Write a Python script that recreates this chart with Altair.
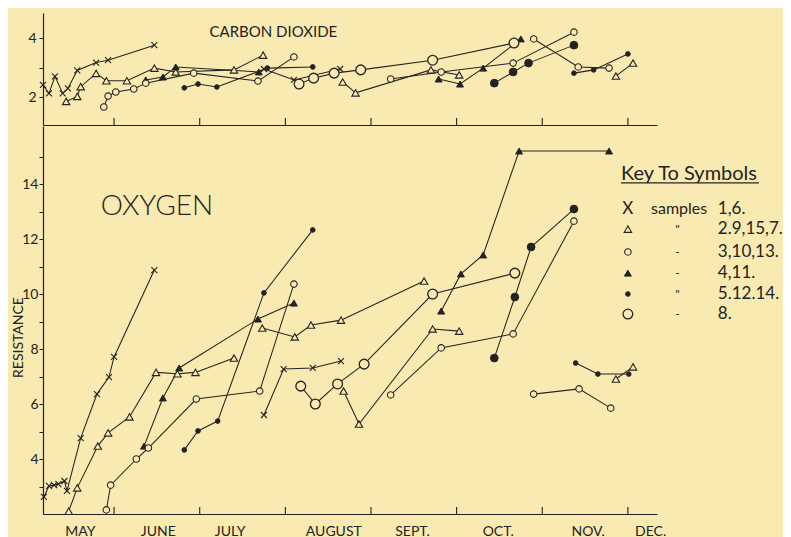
import altair as alt
import pandas as pd

BG = "#F9EAB2"
INK = "#232323"
FONT = "Lato"

# x = month number (6.0 = 1 June, 7.0 = 1 July ... 12.0 = 1 December)
X_DOMAIN = [5.17, 12.34]
CO2_DOMAIN = [1.05, 4.85]
O2_DOMAIN = [2.0, 16.11]
W, H_CO2, H_O2 = 614, 112, 388

MONTH_STARTS = [6, 7, 8, 9, 10, 11, 12]
MONTH_NAMES = ["MAY", "JUNE", "JULY", "AUGUST", "SEPT.", "OCT.", "NOV.", "DEC."]
MONTH_LABEL_POS = [5.60, 6.51, 7.35, 8.56, 9.48, 10.48, 11.53, 12.26]

# ---------------- OXYGEN ----------------
O2_X1_M = [5.18, 5.24, 5.30, 5.35, 5.42, 5.45, 5.61, 5.80, 5.94, 6.00, 6.47]
O2_X1_V = [2.62, 3.02, 3.05, 3.09, 3.20, 2.84, 4.76, 6.36, 6.98, 7.71, 10.87]
O2_X2_M = [7.75, 7.98, 8.32, 8.65]
O2_X2_V = [5.60, 7.27, 7.31, 7.56]
O2_T1_M = [5.47, 5.57, 5.81, 5.93, 6.18, 6.49, 6.74, 6.95, 7.40]
O2_T1_V = [2.10, 2.95, 4.47, 4.95, 5.53, 7.15, 7.10, 7.15, 7.67]
O2_T2_M = [7.73, 8.11, 8.30, 8.65, 9.62]
O2_T2_V = [8.76, 8.44, 8.87, 9.05, 10.47]
O2_T3_M = [8.68, 8.86, 9.72, 10.03]
O2_T3_V = [6.47, 5.27, 8.73, 8.65]
O2_T4_M = [11.86, 12.06]
O2_T4_V = [6.91, 7.35]
O2_F1_M = [6.35, 6.57, 6.76, 7.68, 8.10]
O2_F1_V = [4.47, 6.22, 7.31, 9.09, 9.67]
O2_F2_M = [9.82, 10.05, 10.31, 10.73, 11.78]
O2_F2_V = [9.38, 10.73, 11.42, 15.20, 15.20]
O2_C1_M = [5.91, 5.96, 6.26, 6.40, 6.96, 7.70, 8.10]
O2_C1_V = [2.15, 3.05, 4.00, 4.40, 6.18, 6.47, 10.36]
O2_C2_M = [9.23, 9.82, 10.66, 11.37]
O2_C2_V = [6.33, 8.04, 8.55, 12.65]
O2_C3_M = [10.90, 11.43, 11.80]
O2_C3_V = [6.36, 6.55, 5.85]
O2_B1_M = [8.18, 8.35, 8.61, 8.92, 9.72, 10.68]
O2_B1_V = [6.65, 6.00, 6.73, 7.45, 10.00, 10.76]
O2_D1_M = [10.44, 10.68, 10.87, 11.37]
O2_D1_V = [7.67, 9.89, 11.71, 13.09]
O2_D2_M = [6.82, 6.98, 7.21, 7.75, 8.32]
O2_D2_V = [4.33, 5.02, 5.38, 10.04, 12.33]
O2_D3_M = [11.39, 11.65, 12.01]
O2_D3_V = [7.49, 7.09, 7.09]

# ---------------- CARBON DIOXIDE ----------------
C_X1_M = [5.17, 5.24, 5.31, 5.40, 5.46, 5.57, 5.79, 5.93, 6.47]
C_X1_V = [2.41, 2.12, 2.70, 2.12, 2.29, 2.90, 3.17, 3.25, 3.76]
C_X2_M = [7.75, 8.10, 8.64]
C_X2_V = [2.95, 2.58, 2.95]
C_T1_M = [5.44, 5.57, 5.61, 5.79, 5.91, 6.15, 6.47, 6.72, 7.40, 7.74]
C_T1_V = [1.85, 2.02, 2.35, 2.80, 2.55, 2.55, 2.98, 2.85, 2.92, 3.42]
C_T3_M = [8.67, 8.82, 9.70, 10.03]
C_T3_V = [2.51, 2.14, 2.92, 2.75]
C_T4_M = [11.86, 12.06]
C_T4_V = [2.71, 3.15]
C_F1_M = [6.37, 6.57, 6.72, 7.69]
C_F1_V = [2.58, 2.68, 3.02, 2.85]
C_F2_M = [9.79, 10.04, 10.31, 10.75]
C_F2_V = [2.61, 2.44, 2.98, 3.97]
C_C1_M = [5.88, 5.93, 6.02, 6.23, 6.37, 6.93, 7.68, 8.10]
C_C1_V = [1.66, 2.03, 2.17, 2.27, 2.47, 2.81, 2.54, 3.36]
C_C2_M = [9.23, 9.82, 10.66, 11.37]
C_C2_V = [2.61, 2.85, 3.15, 4.20]
C_C3_M = [10.90, 11.42, 11.78]
C_C3_V = [3.97, 3.02, 2.98]
C_B1_M = [8.16, 8.33, 8.57, 8.88, 9.72, 10.67]
C_B1_V = [2.44, 2.64, 2.81, 2.92, 3.25, 3.83]
C_D1_M = [10.44, 10.66, 10.84, 11.37]
C_D1_V = [2.47, 2.85, 3.15, 3.76]
C_D2_M = [6.82, 6.98, 7.20, 7.79, 8.32]
C_D2_V = [2.31, 2.44, 2.34, 2.98, 3.02]
C_D3_M = [11.37, 11.60, 12.00]
C_D3_V = [2.81, 2.92, 3.46]

# ---------------- key ----------------
KEY_TITLE = "Key To Symbols"
KEY_TITLE_POS = (11.92, 14.36)
KEY_UNDERLINE = (11.92, 13.53, 14.04)
KEY_SYMBOL_M = 12.0
KEY_ROW_V = [13.09, 12.36, 11.53, 10.76, 10.00, 9.27]
KEY_ROW_SYMS = ["x", "tri_open", "circ_small", "tri_filled", "dot", "circ_big"]
KEY_WORD_M = 12.27
KEY_DITTO_M = 12.58
KEY_NUM_M = 13.05
KEY_WORDS = ["samples", "", "", "", "", ""]
KEY_DITTOS = ["", "\"", "-", "-", "\"", "-"]
KEY_NUMS = ["1,6.", "2.9,15,7.", "3,10,13.", "4,11.", "5.12.14.", "8."]

CO2_TITLE = ("CARBON DIOXIDE", 7.86, 4.20)
O2_TITLE = ("OXYGEN", 6.50, 13.16)

SYMBOLS = {
    "x": dict(shape="M-1,-1L1,1M-1,1L1,-1", fill=INK, size=36, sw=1.1),
    "tri_open": dict(shape="triangle-up", fill=BG, size=55, sw=1.1),
    "tri_filled": dict(shape="triangle-up", fill=INK, size=48, sw=1.0),
    "circ_small": dict(shape="circle", fill=BG, size=42, sw=1.1),
    "circ_big": dict(shape="circle", fill=BG, size=95, sw=1.3),
    "dot": dict(shape="circle", fill=INK, size=22, sw=1.0),
    "dot_big": dict(shape="circle", fill=INK, size=60, sw=1.0),
}

SERIES = [
    ("O2", "x", O2_X1_M, O2_X1_V), ("O2", "x", O2_X2_M, O2_X2_V),
    ("O2", "tri_open", O2_T1_M, O2_T1_V), ("O2", "tri_open", O2_T2_M, O2_T2_V),
    ("O2", "tri_open", O2_T3_M, O2_T3_V), ("O2", "tri_open", O2_T4_M, O2_T4_V),
    ("O2", "tri_filled", O2_F1_M, O2_F1_V), ("O2", "tri_filled", O2_F2_M, O2_F2_V),
    ("O2", "circ_small", O2_C1_M, O2_C1_V), ("O2", "circ_small", O2_C2_M, O2_C2_V),
    ("O2", "circ_small", O2_C3_M, O2_C3_V), ("O2", "circ_big", O2_B1_M, O2_B1_V),
    ("O2", "dot_big", O2_D1_M, O2_D1_V), ("O2", "dot", O2_D2_M, O2_D2_V),
    ("O2", "dot", O2_D3_M, O2_D3_V),
    ("CO2", "x", C_X1_M, C_X1_V), ("CO2", "x", C_X2_M, C_X2_V),
    ("CO2", "tri_open", C_T1_M, C_T1_V), ("CO2", "tri_open", C_T3_M, C_T3_V),
    ("CO2", "tri_open", C_T4_M, C_T4_V),
    ("CO2", "tri_filled", C_F1_M, C_F1_V), ("CO2", "tri_filled", C_F2_M, C_F2_V),
    ("CO2", "circ_small", C_C1_M, C_C1_V), ("CO2", "circ_small", C_C2_M, C_C2_V),
    ("CO2", "circ_small", C_C3_M, C_C3_V), ("CO2", "circ_big", C_B1_M, C_B1_V),
    ("CO2", "dot_big", C_D1_M, C_D1_V), ("CO2", "dot", C_D2_M, C_D2_V),
    ("CO2", "dot", C_D3_M, C_D3_V),
]

rows = []
for k, (panel, sym, ms, vs) in enumerate(SERIES):
    for i, (m, v) in enumerate(zip(ms, vs)):
        rows.append(dict(panel=panel, sym=sym, line=f"s{k}", i=i, m=m, v=v))
df = pd.DataFrame(rows)

label_expr = "''"
for pos, name in reversed(list(zip(MONTH_LABEL_POS, MONTH_NAMES))):
    label_expr = f"abs(datum.value - {pos}) < 0.001 ? '{name}' : " + label_expr

x_scale = alt.Scale(domain=X_DOMAIN, nice=False, zero=False)

CO2_XAXIS = alt.Axis(title=None, labels=False, ticks=False, grid=False, domainWidth=1.2)
O2_XAXIS = alt.Axis(title=None, values=MONTH_LABEL_POS, labelExpr=label_expr, ticks=False,
                    tickSize=0, labelPadding=10, labelFontSize=14, labelOverlap=False,
                    labelFlush=False, grid=False, domainWidth=1.2)
CO2_YAXIS = alt.Axis(title=None, values=[2, 3, 4], labelExpr="datum.value == 3 ? '' : datum.label",
                     tickSize=4, labelPadding=3, labelFontSize=14, grid=False, domainWidth=1.2)
O2_YAXIS = alt.Axis(title="RESISTANCE", values=list(range(3, 16)),
                    labelExpr="datum.value % 2 == 0 ? datum.label : ''",
                    tickSize=4, labelPadding=1, labelFontSize=14, grid=False, domainWidth=1.2,
                    titleFontSize=14, titleFontWeight="normal", titleX=-25, titleY=211,
                    titleBaseline="middle", titleAlign="center")


def panel(name, ydom, height, xaxis, yaxis, extras):
    d = df[df.panel == name]
    X = alt.X("m:Q", scale=x_scale, axis=xaxis)
    Y = alt.Y("v:Q", scale=alt.Scale(domain=ydom, nice=False, zero=False), axis=yaxis)
    layers = []
    layers.append(
        alt.Chart(d).mark_line(color=INK, strokeWidth=1.05).encode(
            x=X, y=Y, detail="line:N", order="i:Q")
    )
    layers.append(
        alt.Chart(pd.DataFrame({"m": MONTH_STARTS})).mark_rule(color=INK, strokeWidth=1.1).encode(
            x=X, y=alt.value(height - 7), y2=alt.value(height))
    )
    for s, st in SYMBOLS.items():
        sub = d[d.sym == s]
        if len(sub) == 0:
            continue
        layers.append(
            alt.Chart(sub).mark_point(shape=st["shape"], size=st["size"], filled=True,
                                      fill=st["fill"], stroke=INK, strokeWidth=st["sw"],
                                      opacity=1).encode(x=X, y=Y)
        )
    for e in extras:
        layers.append(e(X, Y))
    return alt.layer(*layers).properties(width=W, height=height)


def text_layer(texts, ms, vs, size, align="center", weight="normal"):
    def make(X, Y):
        return alt.Chart(pd.DataFrame({"t": texts, "m": ms, "v": vs})).mark_text(
            font=FONT, fontSize=size, align=align, baseline="middle", color=INK,
            fontWeight=weight).encode(x=X, y=Y, text="t:N")
    return make


def key_points(X, Y):
    layers = []
    for s, v in zip(KEY_ROW_SYMS[1:], KEY_ROW_V[1:]):
        st = SYMBOLS[s]
        layers.append(
            alt.Chart(pd.DataFrame({"m": [KEY_SYMBOL_M], "v": [v]})).mark_point(
                shape=st["shape"], size=st["size"], filled=True, fill=st["fill"],
                stroke=INK, strokeWidth=st["sw"], opacity=1).encode(x=X, y=Y)
        )
    return alt.layer(*layers)


def key_underline(X, Y):
    m1, m2, v = KEY_UNDERLINE
    return alt.Chart(pd.DataFrame({"m": [m1], "m2": [m2], "v": [v]})).mark_rule(
        color=INK, strokeWidth=1.2).encode(x=X, x2="m2:Q", y=Y)


co2 = panel("CO2", CO2_DOMAIN, H_CO2, CO2_XAXIS, CO2_YAXIS, [
    text_layer([CO2_TITLE[0]], [CO2_TITLE[1]], [CO2_TITLE[2]], 15),
])

o2 = panel("O2", O2_DOMAIN, H_O2, O2_XAXIS, O2_YAXIS, [
    text_layer([O2_TITLE[0]], [O2_TITLE[1]], [O2_TITLE[2]], 28, weight=300),
    text_layer([KEY_TITLE], [KEY_TITLE_POS[0]], [KEY_TITLE_POS[1]], 20, align="left"),
    key_underline,
    text_layer(["X"], [KEY_SYMBOL_M], [KEY_ROW_V[0]], 17),
    key_points,
    text_layer(KEY_WORDS, [KEY_WORD_M] * 6, KEY_ROW_V, 16, align="left"),
    text_layer(KEY_DITTOS, [KEY_DITTO_M] * 6, KEY_ROW_V, 12),
    text_layer(KEY_NUMS, [KEY_NUM_M] * 6, KEY_ROW_V, 17, align="left"),
])

chart = alt.vconcat(co2, o2, spacing=0).properties(
    padding={"left": 3, "top": 5, "right": 0, "bottom": 0}
).configure(background=BG).configure_view(stroke=None).configure_axis(
    labelFont=FONT, titleFont=FONT, labelColor=INK, titleColor=INK,
    domainColor=INK, tickColor=INK, grid=False
)

chart.save("out.html", embed_options={"renderer": "svg", "actions": False})
